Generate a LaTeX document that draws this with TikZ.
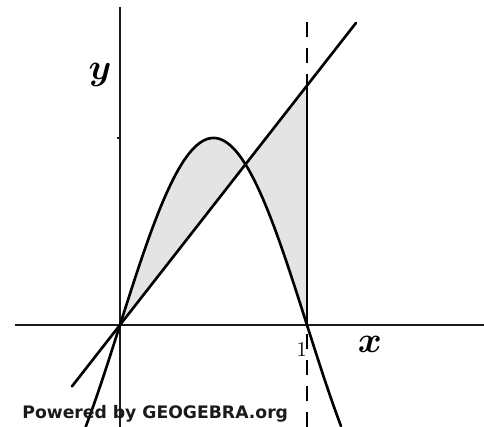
\documentclass[tikz,border=0pt]{standalone}
\usepackage{amsmath, amssymb}
\usepackage{fontspec}
\newfontfamily\ggbfont{DejaVu Sans}
\usepackage{tikz}
\usetikzlibrary{calc}
\usepackage{xcolor}
\definecolor{areagray}{HTML}{E4E4E4}
\definecolor{inkdark}{HTML}{1A1A1A}

\tikzset{
  axisline/.style={line width=1.5pt, inkdark},
  graphline/.style={line width=1.5pt, black, line cap=round},
  boundline/.style={line width=1.1pt, black, dash pattern=on 0.3cm off 0.22cm},
  shaded/.style={fill=areagray, draw=none}
}

\begin{document}
\begin{tikzpicture}[x=3.74cm, y=3.74cm]
  \useasboundingbox (-0.642,-0.545) rectangle (1.947,1.738);
  % points
  \coordinate (O) at (0,0);
  \coordinate (A) at (1,0);
  \coordinate (B) at (1,1.28);
  % area between curve and line
  \fill[shaded] plot[domain=0:1, samples=80] (\x, {sin(180*\x)}) -- (B) -- (O) -- cycle;
  % axes
  \draw[axisline] (-0.561,0) -- (1.947,0);
  \draw[axisline] (0,-0.545) -- (0,1.70);
  \draw[axisline, line width=1pt] (-0.018,1) -- (0,1);
  % x = 1
  \draw[boundline] (1,-0.545) -- (1,1.658);
  \draw[line width=1.1pt] (A) -- (B);
  % graphs
  \draw[graphline] plot[domain=-0.1835:1.1835, samples=120] (\x, {sin(180*\x)});
  \draw[graphline] (-0.257,-0.329) -- (1.262,1.615);
  % labels
  \node (ylabel) at (-0.107,1.337) {\fontsize{21}{24}\selectfont $\boldsymbol{y}$};
  \node (xlabel) at (1.337,-0.103) {\fontsize{21}{24}\selectfont $\boldsymbol{x}$};
  \node (one) at (0.972,-0.132) {\fontsize{13}{15}\selectfont $1$};
  \node[anchor=base west, inner sep=0pt, text=inkdark] (credit) at (-0.524,-0.503)
    {\ggbfont\bfseries\fontsize{9.8}{11}\selectfont Powered by GEOGEBRA.org};
\end{tikzpicture}
\end{document}
